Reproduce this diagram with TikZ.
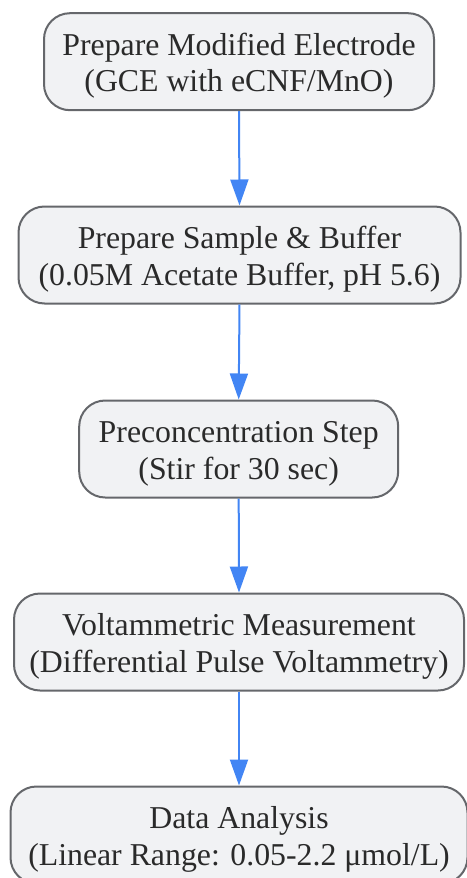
\documentclass[tikz,border=0pt]{standalone}
\usepackage{fontspec}
\setmainfont{Liberation Serif}
\usetikzlibrary{arrows.meta}
\definecolor{boxfill}{HTML}{F1F2F4}
\definecolor{boxdraw}{HTML}{65676B}
\definecolor{arrowblue}{HTML}{4285F4}
\definecolor{txt}{HTML}{2A2A2A}
\newcommand\topstrut{\rule{0pt}{31.3pt}}
\newcommand\botstrut{\rule[-8pt]{0pt}{8pt}}
\tikzset{
  stepbox/.style={draw=boxdraw, line width=2pt, fill=boxfill, rounded corners=26pt,
    align=center, minimum height=97pt, inner xsep=0pt, inner ysep=0pt, text=txt,
    font=\fontsize{31.8}{36.7}\selectfont},
  flow/.style={draw=arrowblue, line width=2pt, -{Triangle[width=18pt,length=26pt]}}
}
\begin{document}
\begin{tikzpicture}[x=1pt,y=1pt]
\useasboundingbox (0,0) rectangle (466,-878);
\node[stepbox, minimum width=390pt] (n1) at (239,-61.7) {\topstrut Prepare Modified Electrode\\(GCE with eCNF/MnO)\botstrut};
\node[stepbox, minimum width=442pt] (n2) at (239.5,-255) {\topstrut Prepare Sample \& Buffer\\(0.05M Acetate Buffer, pH 5.6)\botstrut};
\node[stepbox, minimum width=319pt] (n3) at (238.7,-449) {\topstrut Preconcentration Step\\(Stir for 30 sec)\botstrut};
\node[stepbox, minimum width=450pt] (n4) at (239,-642) {\topstrut Voltammetric Measurement\\(Differential Pulse Voltammetry)\botstrut};
\node[stepbox, minimum width=457pt] (n5) at (239,-835) {\topstrut Data Analysis\\(Linear Range: 0.05-2.2 μmol/L)\botstrut};
\draw[flow] (n1.south) -- (n2.north);
\draw[flow] (n2.south) -- (n3.north);
\draw[flow] (n3.south) -- (n4.north);
\draw[flow] (n4.south) -- (n5.north);
\end{tikzpicture}
\end{document}
